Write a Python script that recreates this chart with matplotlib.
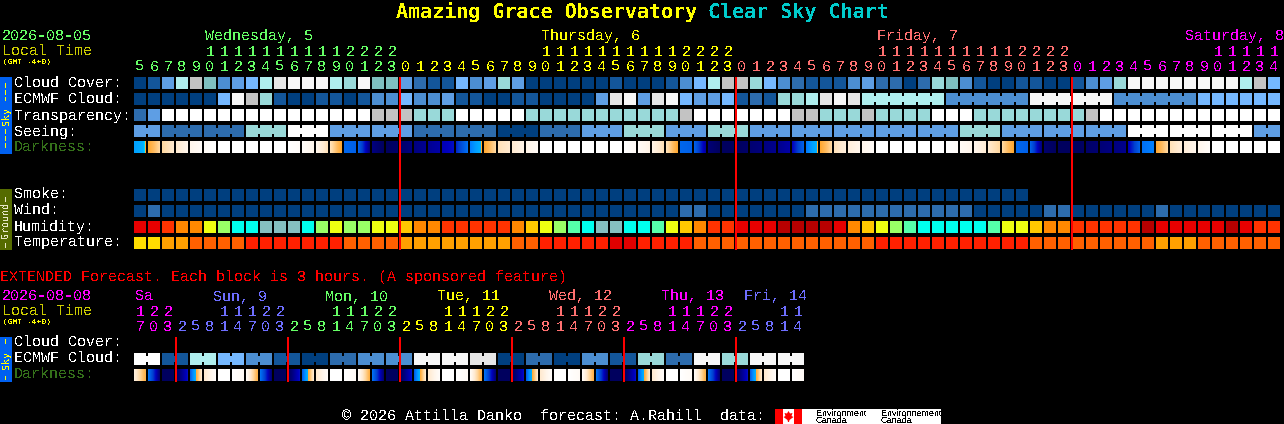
import numpy as np
import matplotlib
matplotlib.use("Agg")
import matplotlib.pyplot as plt
from matplotlib.colors import LinearSegmentedColormap
from matplotlib.patches import Rectangle, Polygon

# ---------- data ----------
main_hours = [5,6,7,8,9,10,11,12,13,14,15,16,17,18,19,20,21,22,23,
              0,1,2,3,4,5,6,7,8,9,10,11,12,13,14,15,16,17,18,19,20,21,22,23,
              0,1,2,3,4,5,6,7,8,9,10,11,12,13,14,15,16,17,18,19,20,21,22,23,
              0,1,2,3,4,5,6,7,8,9,10,11,12,13,14]
ext_hours = [17,20,23,
             2,5,8,11,14,17,20,23,
             2,5,8,11,14,17,20,23,
             2,5,8,11,14,17,20,23,
             2,5,8,11,14,17,20,23,
             2,5,8,11,14,17,20,23,
             2,5,8,11,14]
main_days = ["Wednesday, 5", "Thursday, 6", "Friday, 7", "Saturday, 8"]
main_day_cols = [5, 29, 53, 75]
ext_days = ["Sa", "Sun, 9", "Mon, 10", "Tue, 11", "Wed, 12", "Thu, 13", "Fri, 14"]

cloud_cover = [0,1,4,8,9,6,3,4,5,8,10,11,11,11,8,7,11,6,6,4,2,
               1,1,5,3,4,7,4,0,0,0,0,0,0,1,0,0,0,1,3,5,8,9,9,7,5,3,2,1,1,1,3,
               4,2,2,0,2,7,6,3,1,0,0,1,1,0,0,1,3,4,7,11,11,11,11,11,11,11,11,8,9,5]
ecmwf_cloud = [0,0,0,0,0,0,5,11,9,7,1,0,0,1,1,0,1,3,3,5,3,
               3,4,1,1,0,0,1,1,0,0,0,0,4,10,11,4,10,11,5,4,4,5,1,2,1,7,7,8,10,11,10,
               8,8,8,8,8,8,3,3,3,3,3,3,11,11,11,11,11,11,3,3,3,3,3,3,5,5,5,5,5,5]
ecmwf_spans = [1]*52 + [6,6,6,6]
transparency = [2,4,12,12,12,12,12,12,12,12,12,12,12,12,12,12,12,9,9,9,7,
                7,7,12,12,12,12,12,7,7,7,7,7,7,7,7,7,7,7,9,12,12,12,12,12,12,12,9,9,7,7,7,
                9,7,7,7,7,12,12,12,7,7,7,7,7,7,7,7,9,12,12,12,12,12,12,12,12,12,12,12,12,12]
seeing_blocks = [4,2,2,7,12,4,4,2,2,0,2,4,7,4,7,4,4,4,4,4,7,4,4,4,12,12,12,4]
seeing_spans  = [2,3,3,3,3,3,3,3,3,3,3,3,3,3,3,3,3,3,3,3,3,3,3,3,3,3,3,2]
darkness_left = [6,7.01,9,10,11,11.6,12,12,12,12,12,12,11.7,11,9.5,4.2,4,1,0.3,0.5,1,1.3,1.8,2.6,
                 5,7.01,9.5,10,10.8,12,12,12,12,12,12,12,11.5,10.8,9.5,4.2,4,0.8,0.3,0.3,0.7,1,1.2,2,
                 4.8,7.01,9.5,10.4,11,12,12,12,12,12,12,11.5,11,10,9,4.2,4,0.6,0.3,0.3,0.5,0.8,1,1.8,
                 4.5,7.01,9.5,10.3,11,12,12,12,12,12]
darkness_right = [7,9,10,11,11.6,12,12,12,12,12,12,11.7,11,9.5,7,4,1,0.3,0.5,1,1.3,1.6,2.2,4.5,
                  7,9,10,10.8,11.5,12,12,12,12,12,12,11.5,10.8,9.5,7,4,1.5,0.3,0.3,0.5,0.9,1.2,1.6,4,
                  7,9,10.4,11,11.6,12,12,12,12,12,11.7,11,10.2,9,7,4,1,0.3,0.3,0.4,0.7,1,1.2,4,
                  5,9,10.3,11,11.7,12,12,12,12,12]
smoke = [0]*64
wind = [0,2,0,0,0,0,0,0,0,0,0,0,0,0,0,0,0,0,0,0,0,
        0,0,0,0,0,0,0,0,0,0,0,0,0,0,0,0,0,0,2,2,0,0,0,0,0,0,0,2,2,2,2,
        2,2,2,2,2,2,2,2,0,0,0,0,0,2,2,0,0,0,0,0,0,2,0,0,0,0,0,0,0,0]
humidity = [1,1,2,3,3,5,6,8,8,9,9,9,8,6,5,6,6,5,5,4,3,
            3,2,2,2,2,2,3,4,5,6,7,8,9,9,8,8,7,5,4,3,2,2,1,1,1,0,0,0,0,1,3,
            4,5,6,7,8,8,8,8,8,7,5,5,4,3,3,2,2,2,2,2,0,1,1,1,1,1,0,1,2,2]
temperature = [4,4,3,3,2,2,2,2,1,1,1,1,1,1,1,2,2,2,2,3,3,
               3,3,3,3,3,3,2,2,1,1,1,1,1,0,0,1,1,1,1,2,2,2,2,2,2,2,2,2,2,2,2,
               2,1,1,1,1,1,1,1,1,1,1,1,2,2,2,2,2,2,2,2,2,3,3,3,2,2,2,2,2,2]
ext_ecmwf_blocks = [12,1,8,5,3,1,0,2,3,3,11,11,10,0,2,0,3,1,7,2,11,7,11,11]
ext_ecmwf_spans = [2]*24
ext_dark_left = [10.5,4.5,0.3,0.3,4,10,12,12,
                 11.5,4.5,0.3,0.3,4,10,12,12,
                 11.5,4.5,0.3,0.3,4,10,12,12,
                 11.5,4.5,0.3,0.3,4,10,12,12,
                 11.5,4.5,0.3,0.3,4,10,12,12,
                 11.5,4.5,0.3,0.3,4,10,12,12]
ext_dark_right = [7.5,0.8,0.3,2.2,10,11.7,12,11.5,
                  7.5,0.8,0.3,2.2,10,11.7,12,11.5,
                  7.5,0.8,0.3,2.2,10,11.7,12,11.5,
                  7.5,0.8,0.3,2.2,10,11.7,12,11.5,
                  7.5,0.8,0.3,2.2,10,11.7,12,11.5,
                  7.5,0.8,0.3,2.2,10,11.7,12,11.5]
main_red_cols = [19, 43, 67]
ext_red_cols = [3, 11, 19, 27, 35, 43]
main_row_labels = ["Cloud Cover:", "ECMWF Cloud:", "Transparency:", "Seeing:"]
ground_labels = ["Smoke:", "Wind:", "Humidity:", "Temperature:"]

# ---------- styles ----------
cloud_pal = ["#003F7F","#13569A","#2D6CAD","#4C8ED1","#5E9EE4","#75B8FF","#7FBFBF",
             "#99D9D9","#AFEEEE","#C3C3C3","#E6E6E6","#F7F7F7","#FFFFFF"]
hum_pal = ["#B80000","#E80000","#FF3300","#FF8800","#FFC800","#EEFF11","#99FF66","#55FFAA","#00FFEE","#85C0C0"]
temp_pal = ["#E00000","#FF2000","#FF6000","#FFA000","#FFDD00"]
dark_stops = [(0,"#000050"),(1,"#000080"),(2,"#0000C0"),(3,"#0040D0"),(4,"#0060E8"),
              (5,"#0080FF"),(6,"#00A0FF"),(6.8,"#00B0FF"),(7,"#00F8FF"),(7,"#FFA830"),
              (8,"#FFBC60"),(9,"#FFD8A0"),(10,"#FFEAD0"),(11,"#FFF6EC"),(12,"#FFFFFF")]
dark_cmap = LinearSegmentedColormap.from_list("dark", [(v/12, c) for v, c in dark_stops], N=1024)
GREEN, YELLOW, SALMON, MAGENTA, BLUE = "#66FF66", "#FFFF00", "#FF7070", "#FF00FF", "#6E6EFF"
DARKNESS = "#34701A"
MONO = "Liberation Mono"
TITLE = "DejaVu Sans Mono"
PT = 72 / 100
X0, PITCH, CELL = 134, 14, 12

plt.rcParams["text.antialiased"] = False
plt.rcParams["text.hinting"] = "no_hinting"
plt.rcParams["font.family"] = [MONO, "DejaVu Sans Mono"]

fig = plt.figure(figsize=(12.84, 4.24), dpi=100, facecolor="black")
ax = fig.add_axes([0, 0, 1, 1])
ax.set_facecolor("black")
ax.axis("off")


def box(x, y, w, h, color, z=2):
    ax.add_patch(Rectangle((x, y), w, h, facecolor=color, edgecolor="none", linewidth=0,
                           antialiased=False, zorder=z))


def label(x, y, s, color="white", px=15, weight="normal", family=MONO, **kw):
    ax.text(x, y, s, color=color, fontsize=px * PT, fontweight=weight, family=family,
            va="baseline", ha=kw.pop("ha", "left"), **kw)


def row(y, levels, pal, spans=None):
    for k, v in enumerate(levels):
        box(X0 + PITCH * k, y, CELL, CELL, pal[v])
    if spans:
        k = 0
        for s in spans:
            for j in range(k, k + s - 1):
                box(X0 + PITCH * j + CELL, y + 3, PITCH - CELL, 6, pal[levels[j]])
            k += s


def expand(blocks, spans):
    return [b for b, s in zip(blocks, spans) for _ in range(s)]


def dark_row(y, left, right):
    for k, (a, b) in enumerate(zip(left, right)):
        x = X0 + PITCH * k
        ax.imshow(np.linspace(a, b, CELL).reshape(1, -1), cmap=dark_cmap, vmin=0, vmax=12,
                  extent=(x, x + CELL, y + CELL, y), aspect="auto", interpolation="nearest", zorder=2)


def hour_labels(y_tens, y_ones, hours, colors):
    for k, (h, c) in enumerate(zip(hours, colors)):
        x = X0 + PITCH * k + 6
        if h >= 10:
            label(x, y_tens, str(h // 10), c, ha="center")
        label(x, y_ones, str(h % 10), c, ha="center")


def band(y0, y1, color, text, tcolor, dashes):
    box(0, y0, 12, y1 - y0, color)
    ax.text(6, (y0 + y1) / 2, text, color=tcolor, fontsize=10 * PT, family=TITLE, rotation=90,
            ha="center", va="center", zorder=3)
    for start, length in dashes:
        box(5, start, 1, length, tcolor, z=3)


# titles
label(396, 18, "Amazing Grace Observatory", YELLOW, 20, "bold", TITLE)
label(708, 18, "Clear Sky Chart", "#00CCCC", 20, "bold", TITLE)

# main header
label(2, 40, "2026-08-05", GREEN)
label(2, 56, "Local Time", "#CCCC00")
label(3, 64, "(GMT -4+0)", YELLOW, 8)
day_colors = [GREEN, YELLOW, SALMON, MAGENTA]
for s, c, col in zip(main_days, day_colors, main_day_cols):
    label(X0 + PITCH * col + 1, 40, s, c)
main_colors = [GREEN] * 19 + [YELLOW] * 24 + [SALMON] * 24 + [MAGENTA] * 15
hour_labels(56, 71, main_hours, main_colors)

# sky rows
for i, s in enumerate(main_row_labels):
    label(14, 88 + 16 * i, s)
label(14, 152, "Darkness:", DARKNESS)
band(77, 154, "#0060F0", "Sky", YELLOW,
     [(83, 5), (90, 5), (97, 4), (129, 5), (136, 5), (143, 5)])
row(77, cloud_cover, cloud_pal)
row(93, ecmwf_cloud, cloud_pal, ecmwf_spans)
row(109, transparency, cloud_pal)
row(125, expand(seeing_blocks, seeing_spans), cloud_pal, seeing_spans)
dark_row(141, darkness_left, darkness_right)

# ground rows
for i, s in enumerate(ground_labels):
    label(14, 199 + 16 * i, s)
band(189, 250, "#556B00", "Ground", "#E8E8C8", [(197, 5), (243, 5)])
row(189, smoke, cloud_pal)
row(205, wind, cloud_pal)
row(221, humidity, hum_pal)
row(237, temperature, temp_pal)
for c in main_red_cols:
    box(X0 + PITCH * c - 1, 77, 2, 173, "#FF0000", z=4)

# extended forecast
label(0, 281, "EXTENDED Forecast. Each block is 3 hours. (A sponsored feature)", "#FF0000")
label(2, 300, "2026-08-08", MAGENTA)
label(2, 316, "Local Time", "#CCCC00")
label(3, 324, "(GMT -4+0)", YELLOW, 8)
ext_colors = [MAGENTA] * 3 + [BLUE] * 8 + [GREEN] * 8 + [YELLOW] * 8 + [SALMON] * 8 + [MAGENTA] * 8 + [BLUE] * 5
ext_day_x = [135, 213, 325, 437, 549, 661, 744]
ext_day_c = [MAGENTA, BLUE, GREEN, YELLOW, SALMON, MAGENTA, BLUE]
for s, x, c in zip(ext_days, ext_day_x, ext_day_c):
    label(x, 300, s, c)
hour_labels(316, 331, ext_hours, ext_colors)
label(14, 347, "Cloud Cover:")
label(14, 363, "ECMWF Cloud:")
label(14, 379, "Darkness:", DARKNESS)
band(337, 382, "#0060F0", "Sky", YELLOW, [(339, 5), (376, 4)])
row(353, expand(ext_ecmwf_blocks, ext_ecmwf_spans), cloud_pal, ext_ecmwf_spans)
dark_row(369, ext_dark_left, ext_dark_right)
for c in ext_red_cols:
    box(X0 + PITCH * c - 1, 337, 2, 45, "#FF0000", z=4)

# footer
label(342, 421, "\u00a9 2026 Attilla Danko  forecast: A.Rahill  data:")
box(775, 409, 166, 15, "#FFFFFF")
box(775, 409, 8, 15, "#FF0000", z=3)
box(794, 409, 8, 15, "#FF0000", z=3)
ax.add_patch(Polygon([(788.5, 411), (790, 413.5), (792.5, 413), (791.5, 416), (793.5, 417),
                      (789.5, 420), (789, 422), (788, 422), (787.5, 420), (783.5, 417),
                      (785.5, 416), (784.5, 413), (787, 413.5)],
                     facecolor="#FF0000", edgecolor="none", zorder=3))
for x, s in [(816, "Environment"), (881, "Environnement")]:
    label(x, 416, s, "black", 9, family="Liberation Sans", zorder=3)
    label(x, 423, "Canada", "black", 9, family="Liberation Sans", zorder=3)

ax.set_xlim(0, 1284)
ax.set_ylim(424, 0)
fig.savefig("out.png", dpi=100, facecolor="black")
